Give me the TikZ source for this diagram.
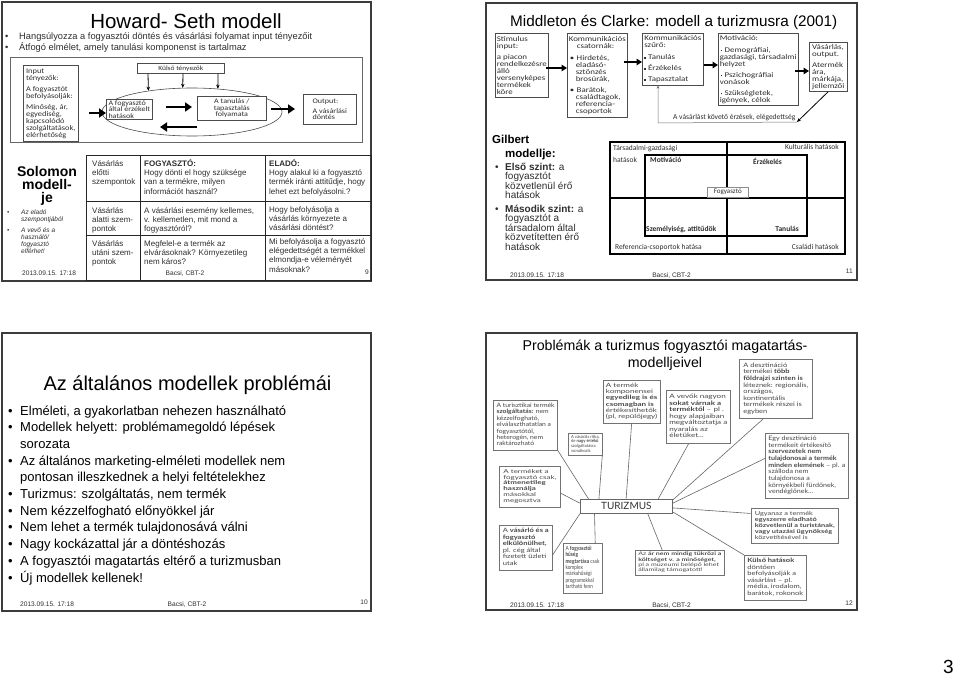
\documentclass[tikz,border=0pt]{standalone}
\usepackage{fontspec}
\usepackage{graphicx}
\setmainfont{Liberation Sans}
\newfontfamily\calfont{Carlito}
\newfontfamily\calm[FakeStretch=1.15]{Carlito}
\newfontfamily\calw[FakeStretch=1.22]{Carlito}
\newfontfamily\latofont{Lato}
\usetikzlibrary{arrows.meta,calc,shapes.geometric}
\newcommand{\fsz}[2]{\fontsize{#1}{#2}\selectfont}
\newcommand{\sqb}{\rule[0.9pt]{1.6pt}{1.6pt}\hspace{2.2pt}}
\newcommand{\fitbox}[3]{\resizebox*{#1pt}{#2pt}{\begin{tabular}{@{}l@{}}#3\end{tabular}}}
\definecolor{txt}{HTML}{2E2E2E}
\definecolor{frm}{HTML}{3C3C3C}
\begin{document}
\begin{tikzpicture}[x=1pt,y=-1pt,
  frame/.style={draw=frm,line width=1.3pt},
  lbl/.style={inner sep=0pt,anchor=base west,text=txt,align=left},
  ctr/.style={inner sep=0pt,anchor=base,text=txt,align=center},
  sbox/.style={draw=black!70,line width=0.6pt,fill=white,text=txt,inner xsep=2pt,inner ysep=1pt,anchor=north west,align=left,font=\calm\fsz{7.3}{7}},
  wbox/.style={sbox,inner xsep=1.5pt,font=\calw\fsz{7.3}{7}},
  bigarr/.style={line width=2.6pt,-{Triangle[length=7pt,width=9pt]}},
  midarr/.style={line width=1.8pt,-{Triangle[length=5.5pt,width=6.5pt]}},
  smallarr/.style={line width=0.8pt,-{Stealth[length=4pt,width=3.5pt]}},
  tbl/.style={draw=black!85,line width=1pt},
  cell/.style={lbl,font=\fsz{8}{9.4}},
  gline/.style={draw=black,line width=1.3pt},
  glbl/.style={lbl,font=\calfont\fsz{7.5}{7}},
  gbold/.style={lbl,font=\calfont\bfseries\fsz{7.5}{7}},
  tbox/.style={draw=black!55,line width=0.6pt,fill=white,text=black!72,inner sep=0pt,anchor=north west,font=\latofont\fsz{6}{6.5}},
  spoke/.style={draw=black!60,line width=0.6pt},
  foot/.style={lbl,font=\fsz{6.6}{8}},
  blist/.style={lbl,text=black,font=\fsz{13}{16.7}}
]
\useasboundingbox (0,0) rectangle (960,682);
\fill[white] (0,0) rectangle (960,682);

%================ Slide 9: Howard-Seth ================
\draw[frame] (2,2) rectangle (371,281);
\node[ctr,text=black,font=\fsz{20.5}{24}] (hsTitle) at (186,29) {Howard- Seth modell};
\node[lbl,font=\fsz{9.3}{11}] (hsB1) at (5,39.5) {•};
\node[lbl,font=\fsz{9.3}{11}] (hsL1) at (19,39.5) {Hangsúlyozza a fogyasztói döntés és vásárlási folyamat input tényezőit};
\node[lbl,font=\fsz{9.3}{11}] (hsB2) at (5,51) {•};
\node[lbl,font=\fsz{9.3}{11}] (hsL2) at (19,51) {Átfogó elmélet, amely tanulási komponenst is tartalmaz};
\draw[draw=black!60,line width=0.6pt] (10,57) rectangle (362,142);
\node[draw=black!70,line width=0.6pt,ellipse,minimum width=180,minimum height=48,inner sep=0pt] (ell) at (192,112) {};
\node[sbox,minimum width=55,minimum height=76] (inp) at (23,65) {Input\\tényezők:\\[4pt]A fogyasztót\\befolyásolják:\\[4pt]Minőség, ár,\\egyediség,\\kapcsolódó\\szolgáltatások,\\elérhetőség};
\node[sbox,minimum width=87,minimum height=10,inner ysep=0pt,align=center,font=\calm\fsz{6.5}{6.5}] (kul) at (137,63) {Külső tényezők};
\draw[smallarr] ($(kul.south west)+(11,0)$) -- (ell.154);
\draw[smallarr] ($(kul.south west)+(46,0)$) -- (ell.111);
\draw[smallarr] ($(kul.south west)+(81,0)$) -- (ell.42);
\node[sbox,minimum width=46,minimum height=20,font=\calm\fsz{7}{6.5}] (hat) at (106,99) {A fogyasztó\\által érzékelt\\hatások};
\node[sbox,minimum width=69,minimum height=24,align=center,font=\calm\fsz{7}{6.5}] (tan) at (197,96) {A tanulás /\\tapasztalás\\folyamata};
\node[sbox,minimum width=53,minimum height=30,font=\calm\fsz{7}{6.8}] (out) at (303,94) {Output:\\[3pt]A vásárlási\\döntés};
\coordinate (a1) at (89,113);
\draw[bigarr] (a1) -- (a1 -| hat.west);
\coordinate (a2) at (166,107);
\draw[bigarr] (a2) -- ($(a2 -| tan.west)+(-5,0)$);
\coordinate (a3) at (197,127);
\draw[bigarr] (a3) -- (160,127);
\coordinate (a4) at (271,109);
\draw[bigarr] (a4) -- ($(a4 -| out.west)+(-8,0)$);

\node[ctr,text=black,font=\bfseries\fsz{14}{13}] (sol) at (47,202) {Solomon\\modell-\\je};
\node[lbl,font=\fsz{6.5}{7}] (solB1) at (7,214) {•};
\node[lbl,font=\itshape\fsz{6.5}{7}] (solA) at (21,221) {Az eladó\\szempontjából};
\node[lbl,font=\fsz{6.5}{7}] (solB2) at (7,232) {•};
\node[lbl,font=\itshape\fsz{6.5}{7}] (solC) at (21,253) {A vevő és a\\használó/\\fogyasztó\\elférhet!};

\draw[tbl] (86,155) rectangle (371,280);
\draw[tbl] (140,155) -- (140,280);
\draw[tbl] (265,155) -- (265,280);
\draw[tbl] (86,201) -- (371,201);
\draw[tbl] (86,235) -- (371,235);
\node[cell] (c11) at (92,184.8) {Vásárlás\\előtti\\szempontok};
\node[cell] (c12) at (144,194.2) {\textbf{FOGYASZTÓ:}\\Hogy dönti el hogy szüksége\\van a termékre, milyen\\információt használ?};
\node[cell] (c13) at (269,194.2) {\textbf{ELADÓ:}\\Hogy alakul ki a fogyasztó\\termék iránti attitűdje, hogy\\lehet ezt befolyásolni.?};
\node[cell] (c21) at (92,231.8) {Vásárlás\\alatti szem-\\pontok};
\node[cell] (c22) at (144,231.8) {A vásárlási esemény kellemes,\\v. kellemetlen, mit mond a\\fogyasztóról?};
\node[cell] (c23) at (269,230.8) {Hogy befolyásolja a\\vásárlás környezete a\\vásárlási döntést?};
\node[cell] (c31) at (92,264.8) {Vásárlás\\utáni szem-\\pontok};
\node[cell] (c32) at (144,264.8) {Megfelel-e a termék az\\elvárásoknak? Környezetileg\\nem káros?};
\node[cell] (c33) at (269,272.2) {Mi befolyásolja a fogyasztó\\elégedettségét a termékkel\\elmondja-e véleményét\\másoknak?};
\node[foot] (f9d) at (22,275.5) {2013.09.15. 17:18};
\node[foot,anchor=base] (f9b) at (185,275.5) {Bacsi, CBT-2};
\node[foot,anchor=base east] (f9n) at (369,274) {9};

%================ Slide 11: Middleton & Clarke, Gilbert ================
\draw[frame] (486,3) rectangle (857,280);
\node[lbl,text=black,font=\fsz{15.3}{18}] (mcTitle) at (510,27) {Middleton és Clarke: modell a turizmusra (2001)};
\node[wbox,minimum width=50,minimum height=64] (s1) at (495,33) {Stimulus\\input:\\[4pt]a piacon\\rendelkezésre\\álló\\versenyképes\\termékek\\köre};
\node[wbox,minimum width=53,minimum height=84] (s2) at (567,33) {Kommunikációs\\\hspace*{8pt}csatornák:\\[5pt]\hspace*{1pt}•\hspace{2.5pt}Hirdetés,\\\hspace*{7pt}eladásó-\\\hspace*{7pt}sztönzés\\\hspace*{7pt}brosúrák,\\[4pt]\hspace*{1pt}•\hspace{2.5pt}Barátok,\\\hspace*{7pt}családtagok,\\\hspace*{7pt}referencia-\\\hspace*{7pt}csoportok};
\node[wbox,minimum width=61,minimum height=52] (s3) at (642,33) {Kommunikációs\\szűrő:\\[5pt]\sqb Tanulás\\[4pt]\sqb Érzékelés\\[4pt]\sqb Tapasztalat};
\node[wbox,minimum width=76,minimum height=72] (s4) at (718,33) {Motiváció:\\[5pt]\hspace*{1pt}\sqb Demográfiai,\\gazdasági, társadalmi\\helyzet\\[4pt]\hspace*{1pt}\sqb Pszichográfiai\\vonások\\[4pt]\hspace*{1pt}\sqb Szükségletek,\\igények, célok};
\node[wbox,minimum width=38,minimum height=49] (s5) at (809,42) {Vásárlás,\\output.\\[4pt]Atermék\\ára,\\márkája,\\jellemzői};
\coordinate (m1) at (546,68);
\draw[midarr] (m1) -- (m1 -| s2.west);
\coordinate (m2) at (624,62);
\draw[midarr] (m2) -- (m2 -| s3.west);
\coordinate (m3) at (704,65);
\draw[midarr] (m3) -- (m3 -| s4.west);
\coordinate (m4) at (795,71);
\draw[midarr] (m4) -- (m4 -| s5.west);
\coordinate (fb) at (797,122);
\coordinate (fbL) at (658,123);
\draw[smallarr] (s5.south) -- (fb);
\draw[black!55,line width=0.5pt,-{Stealth[length=3pt,width=3pt]}] (fb) -- (fbL) -- (fbL |- s3.south);
\node[lbl,font=\calfont\fsz{7.5}{7}] (fbt) at (673,119.5) {A vásárlást követő érzések, elégedettség};

\node[lbl,text=black,font=\bfseries\fsz{11.5}{14}] (gil1) at (492,143) {Gilbert};
\node[lbl,text=black,font=\bfseries\fsz{11.5}{14}] (gil2) at (505,157) {modellje:};
\node[lbl,font=\fsz{10}{9.5}] (gb1) at (495,170) {•};
\node[lbl,font=\fsz{10}{9.5}] (gi1) at (505,198.5) {\textbf{Első szint:} a\\fogyasztót\\közvetlenül érő\\hatások};
\node[lbl,font=\fsz{10}{9.5}] (gb2) at (495,212) {•};
\node[lbl,font=\fsz{10}{9.5}] (gi2) at (505,250) {\textbf{Második szint:} a\\fogyasztót a\\társadalom által\\közvetítetten érő\\hatások};

\draw[gline] (610,142) rectangle (845,254);
\draw[gline] (727,142) -- (727,254);
\draw[gline] (645,155) rectangle (807,236);
\draw[black,line width=2.2pt] (610,198) -- (845,198);
\node[glbl] (gt1) at (613,150) {Társadalmi-gazdasági};
\node[glbl] (gt2) at (613,162) {hatások};
\node[gbold] (gt3) at (650,162) {Motiváció};
\node[gbold] (gt4) at (753,164) {Érzékelés};
\node[glbl,anchor=base east] (gt5) at (839,149) {Kulturális hatások};
\node[draw=black!45,line width=0.5pt,fill=white,minimum width=41,minimum height=10,inner sep=0pt,font=\calfont\fsz{7}{7},text=txt,anchor=south west] (fog) at (707,197) {Fogyasztó};
\node[gbold] (gt6) at (646,231) {Személyiség, attitűdök};
\node[gbold,anchor=base east] (gt7) at (799,231) {Tanulás};
\node[glbl] (gt8) at (615,249) {Referencia-csoportok hatása};
\node[glbl,anchor=base east] (gt9) at (839,249) {Családi hatások};
\node[foot] (f11d) at (510,277.5) {2013.09.15. 17:18};
\node[foot,anchor=base] (f11b) at (671.5,277.5) {Bacsi, CBT-2};
\node[foot,anchor=base east] (f11n) at (853,273) {11};

%================ Slide 10: general model problems ================
\draw[frame] (2,333) rectangle (371,611);
\node[ctr,text=black,font=\fsz{20}{24}] (gpTitle) at (187.5,390) {Az általános modellek problémái};
\node[blist] (gpb1) at (8,415) {•};
\node[blist] (gpl1) at (20,415) {Elméleti, a gyakorlatban nehezen használható};
\node[blist] (gpb2) at (8,431.7) {•};
\node[blist] (gpl2) at (20,448.4) {Modellek helyett: problémamegoldó lépések\\sorozata};
\node[blist] (gpb3) at (8,465.1) {•};
\node[blist] (gpl3) at (20,481.8) {Az általános marketing-elméleti modellek nem\\pontosan illeszkednek a helyi feltételekhez};
\node[blist] (gpb4) at (8,498.5) {•};
\node[blist] (gpl4) at (20,498.5) {Turizmus: szolgáltatás, nem termék};
\node[blist] (gpb5) at (8,515.2) {•};
\node[blist] (gpl5) at (20,515.2) {Nem kézzelfogható előnyökkel jár};
\node[blist] (gpb6) at (8,531.9) {•};
\node[blist] (gpl6) at (20,531.9) {Nem lehet a termék tulajdonosává válni};
\node[blist] (gpb7) at (8,548.6) {•};
\node[blist] (gpl7) at (20,548.6) {Nagy kockázattal jár a döntéshozás};
\node[blist] (gpb8) at (8,565.3) {•};
\node[blist] (gpl8) at (20,565.3) {A fogyasztói magatartás eltérő a turizmusban};
\node[blist] (gpb9) at (8,582) {•};
\node[blist] (gpl9) at (20,582) {Új modellek kellenek!};
\node[foot] (f10d) at (20,606) {2013.09.15. 17:18};
\node[foot,anchor=base] (f10b) at (187,606) {Bacsi, CBT-2};
\node[foot,anchor=base east] (f10n) at (368,604) {10};

%================ Slide 12: tourism problems ================
\draw[frame] (486,333) rectangle (857,610);
\node[ctr,text=black,font=\fsz{14.2}{17}] (prTitle) at (665,367) {Problémák a turizmus fogyasztói magatartás-\\modelljeivel};
\node[draw=black!60,line width=0.7pt,fill=white,minimum width=92.7,minimum height=14,inner sep=0pt,font=\latofont\fsz{10}{10},text=black!80] (tur) at (626.35,506.3) {TURIZMUS};
\node[tbox,minimum width=64,minimum height=50] (pA) at (493.3,400) {\fitbox{58}{45}{A turisztikai termék\\\textbf{szolgáltatás:} nem\\kézzelfogható,\\elválaszthatatlan a\\fogyasztótól,\\heterogén, nem\\raktározható}};
\node[tbox,minimum width=33.4,minimum height=22.3] (pB) at (568.3,432.7) {\fitbox{28.4}{18.5}{A vásárlás ritka,\\de \textbf{nagy értékű}\\szolgáltatásra\\vonatkozik}};
\node[tbox,minimum width=57.3,minimum height=42.7] (pC) at (602.7,380) {\fitbox{51.5}{38}{A termék\\komponensei\\\textbf{egyedileg is és}\\\textbf{csomagban is}\\értékesíthetők\\(pl, repülőjegy)}};
\node[tbox,minimum width=64,minimum height=53.3] (pD) at (666,390) {\fitbox{58}{46}{A vevők nagyon\\\textbf{sokat várnak a}\\\textbf{terméktől} – pl .\\hogy alapjaiban\\megváltoztatja a\\nyaralás az\\életüket...}};
\node[tbox,minimum width=72.4,minimum height=59] (pE) at (739.3,359.3) {\fitbox{65}{53}{A desztináció\\termékei \textbf{több}\\\textbf{földrajzi szinten is}\\léteznek: regionális,\\országos,\\kontinentális\\termékek részei is\\egyben}};
\node[tbox,minimum width=83.3,minimum height=65.6] (pF) at (765,432.7) {\fitbox{77}{60}{Egy desztináció\\termékeit értékesítő\\\textbf{szervezetek nem}\\\textbf{tulajdonosai a termék}\\\textbf{minden elemének} – pl. a\\szálloda nem\\tulajdonosa a\\környékbeli fürdőnek,\\vendéglőnek...}};
\node[tbox,minimum width=87.6,minimum height=35] (pG) at (750.7,508.3) {\fitbox{80}{30}{Ugyanaz a termék\\\textbf{egyszerre eladható}\\\textbf{közvetlenül a turistának,}\\\textbf{vagy utazási ügynökség}\\közvetítésével is}};
\node[tbox,minimum width=62,minimum height=45] (pH) at (744,555) {\fitbox{56}{39}{\textbf{Külső hatások}\\döntően\\befolyásolják a\\vásárlást – pl.\\média, irodalom,\\barátok, rokonok}};
\node[tbox,minimum width=89,minimum height=25] (pI) at (635,550) {\fitbox{83}{21}{Az \textbf{ár nem mindig tükrözi a}\\\textbf{költséget v. a minőséget,}\\pl a múzeumi belépő lehet\\államilag támogatott!}};
\node[tbox,minimum width=39,minimum height=49.4] (pJ) at (562.7,543.3) {\fitbox{34}{44}{A \textbf{fogyasztói}\\\textbf{hűség}\\\textbf{megtartása} csak\\komplex\\márkahűségi\\programokkal\\tartható fenn}};
\node[tbox,minimum width=52.4,minimum height=45] (pK) at (499.3,525) {\fitbox{46}{39}{A \textbf{vásárló és a}\\\textbf{fogyasztó}\\\textbf{elkülönülhet,}\\pl. cég által\\fizetett üzleti\\utak}};
\node[tbox,minimum width=60.7,minimum height=40.7] (pL) at (499.3,466) {\fitbox{53}{35}{A terméket a\\fogyasztó csak,\\\textbf{átmenetileg}\\\textbf{használja}\\másokkal\\megosztva}};
\draw[spoke] (pA.south east) -- (tur.169);
\draw[spoke] (pB.south east) -- (tur.165);
\draw[spoke] (pC.south) -- (tur.92);
\draw[spoke] (pD.-110) -- (tur.13);
\draw[spoke] (pE.-113) -- (tur.8);
\draw[spoke] (pF.170) -- (tur.4);
\draw[spoke] (pG.164) -- (tur.-2);
\draw[spoke] (pH.north west) -- (tur.-7);
\draw[spoke] (pI.144) -- (tur.-19);
\draw[spoke] (pJ.63) -- (tur.-167);
\draw[spoke] (pK.-16) -- (tur.-171);
\draw[spoke] (pL.-12) -- (tur.176);
\node[foot] (f12d) at (510,607.5) {2013.09.15. 17:18};
\node[foot,anchor=base] (f12b) at (671.5,607.5) {Bacsi, CBT-2};
\node[foot,anchor=base east] (f12n) at (853,605) {12};

\node[ctr,text=black,font=\fsz{19}{22}] (pageno) at (948.5,673) {3};
\end{tikzpicture}
\end{document}
